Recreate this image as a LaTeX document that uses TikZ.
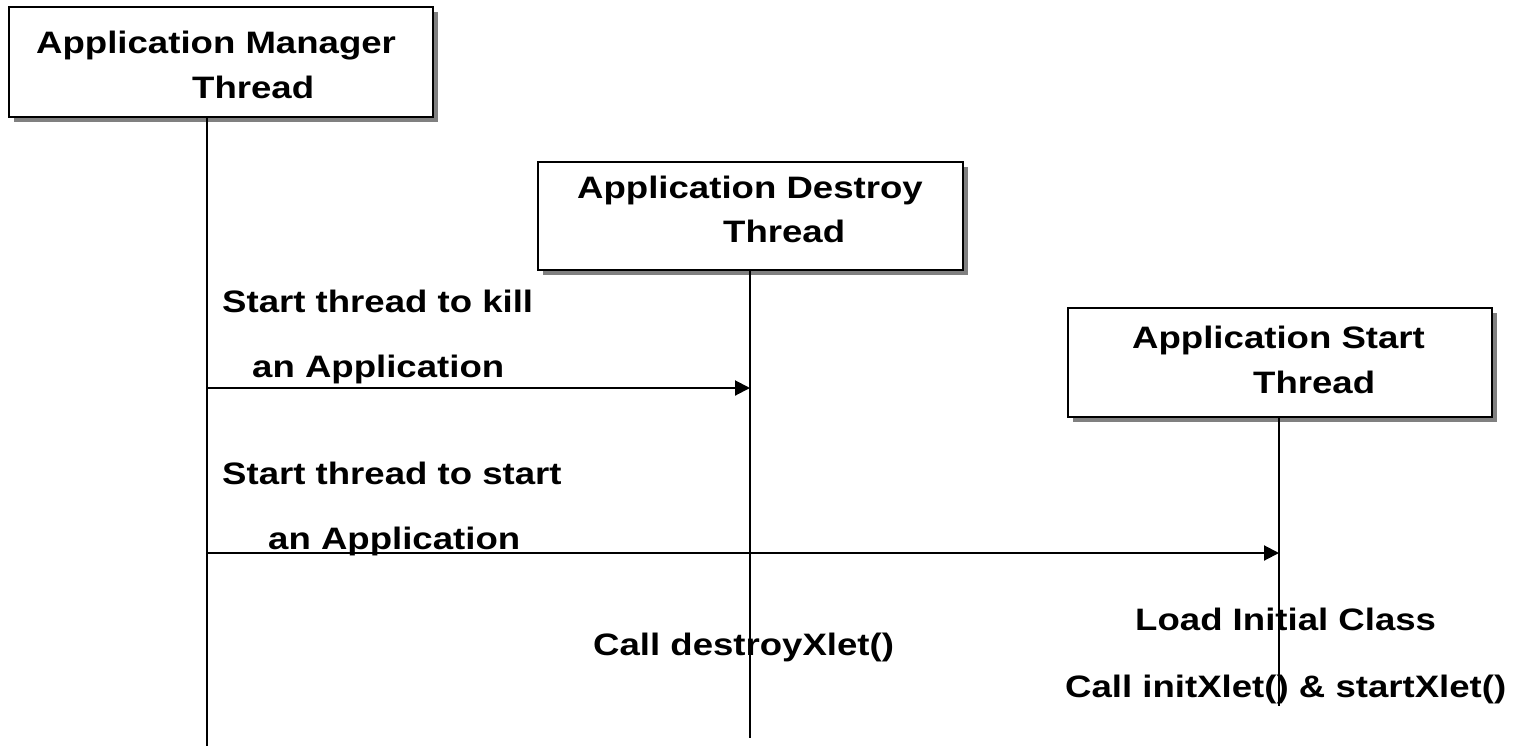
\documentclass[tikz,border=0pt]{standalone}
\usepackage{fontspec}
\setmainfont[FakeStretch=1.18]{Liberation Sans}
\usetikzlibrary{shadows,arrows.meta}
\tikzset{
  threadbox/.style={draw=black, line width=2.2pt, fill=white, inner sep=0pt,
    drop shadow={shadow xshift=5pt, shadow yshift=-5pt, fill=black!50, opacity=1}},
  lbl/.style={anchor=base west, inner sep=0pt, font=\fontsize{31}{37}\selectfont\bfseries},
  lifeline/.style={line width=2pt},
  msg/.style={line width=2pt, -{Triangle[length=15pt,width=15pt]}}
}
\begin{document}
\begin{tikzpicture}[x=1pt,y=-1pt]
\useasboundingbox (0,0) rectangle (1515,750);

% thread boxes
\node[threadbox, minimum width=424pt, minimum height=110pt] (mgr) at (221,62) {};
\node[threadbox, minimum width=425pt, minimum height=108pt] (dst) at (750.5,216) {};
\node[threadbox, minimum width=424pt, minimum height=109pt] (sta) at (1280,362.5) {};

% box titles
\node[lbl] (mgrA) at (36,53) {Application Manager};
\node[lbl] (mgrB) at (192,98) {Thread};
\node[lbl] (dstA) at (577,198) {Application Destroy};
\node[lbl] (dstB) at (723,242) {Thread};
\node[lbl] (staA) at (1132,348) {Application Start};
\node[lbl] (staB) at (1253,393) {Thread};

% lifelines
\coordinate (mgrEnd) at (207,746);
\coordinate (dstEnd) at (750,738);
\coordinate (staEnd) at (1279,706);
\draw[lifeline] (mgr.south -| mgrEnd) -- (mgrEnd);
\draw[lifeline] (dst.south -| dstEnd) -- (dstEnd);
\draw[lifeline] (sta.south -| staEnd) -- (staEnd);

% messages
\coordinate (k1) at (207,388);
\coordinate (s1) at (207,553);
\draw[msg] (k1) -- (k1 -| dstEnd);
\draw[msg] (s1) -- (s1 -| staEnd);

% message labels
\node[lbl] (killA) at (222,312) {Start thread to kill};
\node[lbl] (killB) at (252,377) {an Application};
\node[lbl] (startA) at (222,484) {Start thread to start};
\node[lbl] (startB) at (268,549) {an Application};

% activity notes
\node[lbl] (destroy) at (593,655) {Call destroyXlet()};
\node[lbl] (load) at (1135,630) {Load Initial Class};
\node[lbl] (init) at (1065,697) {Call initXlet() \& startXlet()};
\end{tikzpicture}
\end{document}
